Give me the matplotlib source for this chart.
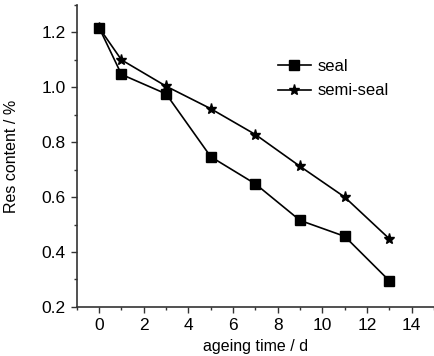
import matplotlib
matplotlib.use('Agg')
import matplotlib.pyplot as plt
from matplotlib.ticker import MultipleLocator

plt.rcParams['font.family'] = ['Liberation Sans Narrow', 'Liberation Sans', 'DejaVu Sans']

days = [0, 1, 3, 5, 7, 9, 11, 13]
seal = [1.217, 1.047, 0.976, 0.747, 0.648, 0.515, 0.457, 0.295]
semi_seal = [1.217, 1.10, 1.004, 0.922, 0.828, 0.712, 0.60, 0.448]

fig = plt.figure(figsize=(4.34, 3.56), dpi=100)
ax = fig.add_axes([0.177, 0.138, 0.823, 0.848])

ax.plot(days, seal, color='black', marker='s', markersize=6.5, linewidth=1.2, label='seal')
ax.plot(days, semi_seal, color='black', marker='*', markersize=8, linewidth=1.2, label='semi-seal')

ax.set_xlim(-1, 15)
ax.set_ylim(0.2, 1.3)
ax.xaxis.set_minor_locator(MultipleLocator(1))
ax.yaxis.set_minor_locator(MultipleLocator(0.1))
ax.set_xticks([0, 2, 4, 6, 8, 10, 12, 14])
ax.set_yticks([0.2, 0.4, 0.6, 0.8, 1.0, 1.2])
ax.set_yticklabels(['0.2', '0.4', '0.6', '0.8', '1.0', '1.2'])

for s in ['top', 'right']:
    ax.spines[s].set_visible(False)
for s in ['left', 'bottom']:
    ax.spines[s].set_color('#333333')
    ax.spines[s].set_linewidth(1.2)

ax.tick_params(which='major', direction='out', length=4, width=1, labelsize=12.5, colors='#333333', labelcolor='black', pad=4)
ax.tick_params(which='minor', direction='out', length=2.5, width=1, colors='#333333')

ax.set_xlabel('ageing time / d', fontsize=11.5, labelpad=4)
ax.set_ylabel('Res content / %', fontsize=11.5, labelpad=16)

ax.legend(loc='upper left', bbox_to_anchor=(0.52, 0.87), frameon=False, fontsize=12,
          handlelength=2.0, handletextpad=0.4, labelspacing=0.55)

fig.savefig('out.png', dpi=100)
